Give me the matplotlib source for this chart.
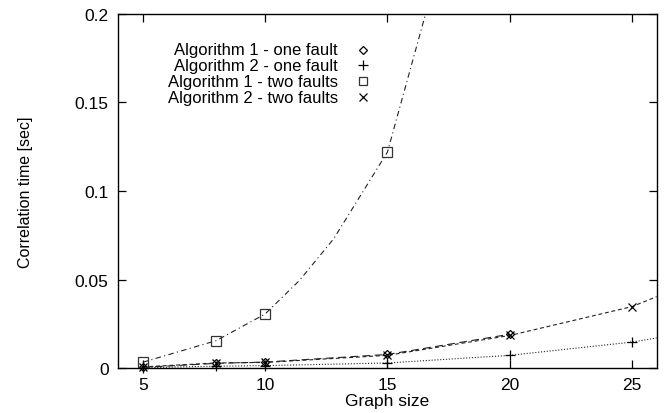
import matplotlib
matplotlib.use("Agg")
import matplotlib.pyplot as plt

plt.rcParams['font.family'] = ['Liberation Sans', 'DejaVu Sans']

# ---- data ----
labels = ["Algorithm 1 - one fault", "Algorithm 2 - one fault",
          "Algorithm 1 - two faults", "Algorithm 2 - two faults"]

a1_one_x = [5, 8, 10, 15, 20]
a1_one_y = [0.0005, 0.0028, 0.0035, 0.0078, 0.0192]

a2_one_x = [5, 8, 10, 15, 20, 25]
a2_one_y = [0.0003, 0.0012, 0.0015, 0.0030, 0.0073, 0.0148]

a1_two_x = [5, 8, 10, 15]
a1_two_y = [0.0034, 0.0156, 0.0306, 0.1220]

a2_two_x = [5, 8, 10, 15, 20, 25]
a2_two_y = [0.0008, 0.0030, 0.0033, 0.0073, 0.0185, 0.0348]

# trend curves as drawn in the picture
c_a1_one_x = [5, 8, 10, 15, 20]
c_a1_one_y = [0.0005, 0.0028, 0.0035, 0.0078, 0.0192]
c_a2_one_x = [5, 8, 10, 15, 20, 25, 26]
c_a2_one_y = [0.0003, 0.0012, 0.0015, 0.0030, 0.0073, 0.0148, 0.0171]
c_a1_two_x = [5, 8, 10, 11.4, 12.8, 14.0, 15, 16.56]
c_a1_two_y = [0.0034, 0.0156, 0.0306, 0.0495, 0.0730, 0.0997, 0.1220, 0.2000]
c_a2_two_x = [5, 8, 10, 15, 20, 25, 26]
c_a2_two_y = [0.0008, 0.0030, 0.0033, 0.0073, 0.0185, 0.0348, 0.0404]

x_ticks = [5, 10, 15, 20, 25]
y_ticks = [0, 0.05, 0.1, 0.15, 0.2]
y_tick_labels = ["0", "0.05", "0.1", "0.15", "0.2"]

fig = plt.figure(figsize=(6.70, 4.14), dpi=100)
ax = fig.add_axes([0.1766, 0.108, 0.8034, 0.8565])

fs = 12.5
fs_leg = 12
lc = '#222222'
lw = 0.8

ax.plot(c_a1_one_x, c_a1_one_y, color=lc, lw=lw, linestyle=(0, (7, 4)))
ax.plot(c_a2_one_x, c_a2_one_y, color=lc, lw=lw, linestyle=(0, (1, 1.6)))
ax.plot(c_a1_two_x, c_a1_two_y, color=lc, lw=lw, linestyle=(0, (5, 3, 1, 3)))
ax.plot(c_a2_two_x, c_a2_two_y, color=lc, lw=lw, linestyle=(0, (3.5, 2.5)))

mk = [
    (a1_one_x, a1_one_y, dict(marker='D', ms=4.2, mfc='none', mec='black', mew=0.9)),
    (a2_one_x, a2_one_y, dict(marker='+', ms=6.5, mec='black', mew=0.9)),
    (a1_two_x, a1_two_y, dict(marker='s', ms=7, mfc='none', mec='#333333', mew=0.9)),
    (a2_two_x, a2_two_y, dict(marker='x', ms=6, mec='black', mew=0.9)),
]
for xs, ys, st in mk:
    ax.plot(xs, ys, linestyle='none', clip_on=False, **st)

# legend (gnuplot style: text right-aligned, symbol to the right)
leg_y = [0.899, 0.855, 0.810, 0.764]
for lab, yy, (_, _, st) in zip(labels, leg_y, mk):
    ax.text(0.408, yy, lab, transform=ax.transAxes, ha='right', va='center', fontsize=fs_leg)
    st2 = dict(st)
    if st2['marker'] == 's':
        st2['ms'] = 5.5
    ax.plot([0.454], [yy], transform=ax.transAxes, linestyle='none', **st2)

ax.set_xlim(4, 26)
ax.set_ylim(0, 0.2)
ax.set_xticks(x_ticks)
ax.set_yticks(y_ticks)
ax.set_yticklabels(y_tick_labels)
ax.tick_params(direction='in', length=6, width=0.9, top=True, right=True,
               labelsize=fs, colors='black')
ax.tick_params(axis='x', pad=6)
ax.tick_params(axis='y', pad=7)
for s in ax.spines.values():
    s.set_linewidth(1.0)

ax.set_xlabel("Graph size", fontsize=fs, labelpad=1)
ax.set_ylabel("Correlation time [sec]", fontsize=11.5)
ax.yaxis.set_label_coords(-0.158, 0.5)

fig.savefig("out.png", dpi=100)
